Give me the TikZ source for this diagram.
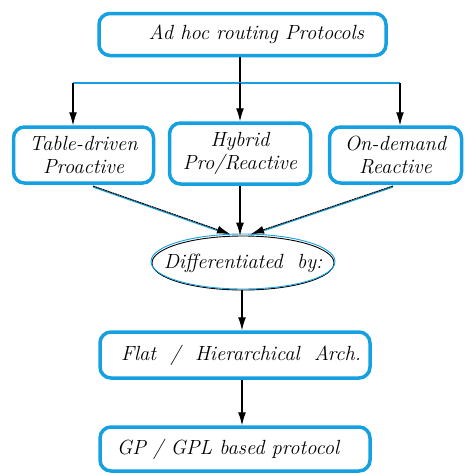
\documentclass[tikz,border=0pt]{standalone}
\usetikzlibrary{arrows.meta,shapes.geometric}
\definecolor{boxblue}{RGB}{20,160,225}
\begin{document}
\begin{tikzpicture}[x=1pt,y=-1pt,
  txt/.style={font=\fontsize{20.5}{23}\selectfont\itshape},
  blbox/.style={draw=boxblue,line width=3.5pt,rounded corners=11pt,fill=white,
    inner sep=0pt,align=center,txt},
  arr/.style={-{Latex[length=13pt,width=8pt]},line width=1.1pt,black},
  bline/.style={boxblue,line width=1.2pt},
  dline/.style={black,line width=1pt,dash pattern=on 2pt off 0.6pt},
]
\useasboundingbox (0,0) rectangle (469,475);

% boxes
\node[blbox,minimum width=287pt,minimum height=42pt] (top) at (242.5,34.5)
  {\hspace*{28pt}Ad hoc routing Protocols};
\node[blbox,minimum width=140pt,minimum height=56pt] (tab) at (83.5,155)
  {Table-driven\\Proactive};
\node[blbox,minimum width=141pt,minimum height=61pt] (hyb) at (240,153.5)
  {Hybrid\\Pro/Reactive};
\node[blbox,minimum width=132pt,minimum height=56pt] (ond) at (395.5,155)
  {On-demand\\Reactive};
\node[draw=black,line width=0.9pt,ellipse,minimum width=182pt,minimum height=54pt,
  inner sep=0pt,txt] (diff) at (243,263)
  {\makebox[0pt]{Differentiated\ \ by:}};
\draw[boxblue,line width=0.9pt] (diff.center) ++(0,-1.5) ellipse [x radius=92, y radius=27.5];
\node[blbox,minimum width=270pt,minimum height=46pt] (flat) at (235,355)
  {\hspace*{12pt}Flat\ \ /\ \ Hierarchical\ \ Arch.};
\node[blbox,minimum width=270pt,minimum height=44pt] (gp) at (235,449)
  {GP / GPL based protocol\hspace*{14pt}};

% branching from the top box
\coordinate (split) at (240,83);
\coordinate (hl) at (73,83);
\coordinate (hr) at (400,83);
\draw[black,line width=1.1pt] (top.south -| split) -- (split);
\draw[bline] (hl) -- (hr);
\draw[arr] (hl) -- (tab.north -| hl);
\draw[arr] (split) -- (hyb.north -| split);
\draw[arr] (hr) -- (ond.north -| hr);

% converging on the ellipse
\coordinate (tl) at (93,186);
\coordinate (tr) at (393,186);
\coordinate (el) at (230,234);
\coordinate (er) at (251,234);
\draw[bline] ([yshift=-1pt]tl) -- ([yshift=-1pt]el);
\draw[bline] ([yshift=-1pt]tr) -- ([yshift=-1pt]er);
\draw[dline,-{Latex[length=13pt,width=8pt]}] (tl) -- (el);
\draw[dline,-{Latex[length=13pt,width=8pt]}] (tr) -- (er);
\draw[arr] (hyb.south -| split) -- (split |- diff.north);

% lower chain
\draw[arr] (diff.south -| flat.north) ++(7,0) -- ([xshift=7pt]flat.north);
\draw[arr] ([xshift=7pt]flat.south) -- ([xshift=7pt]gp.north);
\end{tikzpicture}
\end{document}
